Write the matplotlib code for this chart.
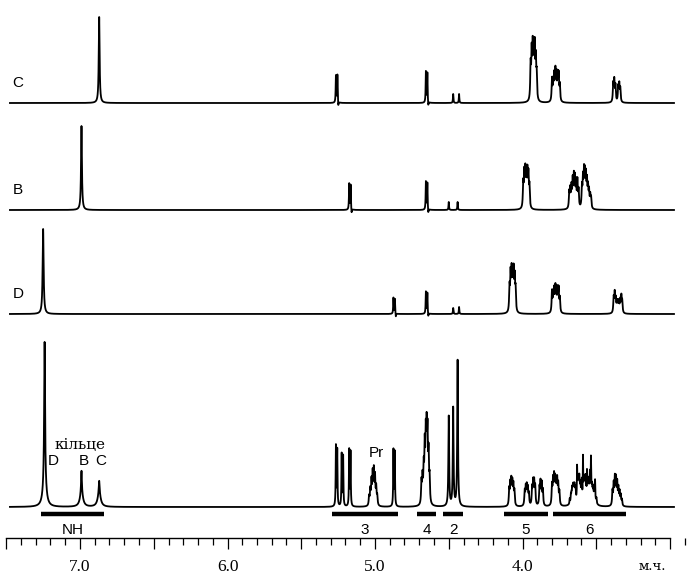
import matplotlib

matplotlib.use("Agg")
import matplotlib.pyplot as plt
import numpy as np
from matplotlib.ticker import FuncFormatter, MultipleLocator

# Peak lists per trace: (ppm, height, half-width at half-height in ppm).
# Heights are in plot units (pixels above the trace baseline).
PEAKS_C = [
    (6.870, 86, 0.0035),
    (5.265, 27, 0.002), (5.255, 28, 0.002), (5.249, -5, 0.002),
    (4.655, 31, 0.002), (4.645, 30, 0.002), (4.639, -5, 0.002),
    (4.470, 9, 0.002), (4.430, 9, 0.002),
    (3.945, 34, 0.003), (3.938, 44, 0.003), (3.931, 49, 0.003), (3.924, 43, 0.003),
    (3.917, 49, 0.003), (3.910, 37, 0.003), (3.904, 24, 0.003),
    (3.800, 22, 0.003), (3.792, 18, 0.003), (3.785, 24, 0.003), (3.777, 28, 0.003),
    (3.770, 24, 0.003), (3.762, 24, 0.003), (3.755, 25, 0.003), (3.747, 16, 0.003),
    (3.385, 18, 0.003), (3.378, 21, 0.003), (3.370, 16, 0.003),
    (3.351, 15, 0.003), (3.344, 17, 0.003), (3.337, 13, 0.003),
]

PEAKS_B = [
    (6.990, 84, 0.0035),
    (5.175, 26, 0.002), (5.165, 25, 0.002), (5.159, -5, 0.002),
    (4.655, 28, 0.002), (4.645, 27, 0.002), (4.639, -5, 0.002),
    (4.500, 8, 0.002), (4.440, 8, 0.002),
    (3.995, 24, 0.003), (3.988, 32, 0.003), (3.981, 34, 0.003), (3.974, 28, 0.003),
    (3.967, 33, 0.003), (3.960, 31, 0.003), (3.953, 21, 0.003),
    (3.683, 16, 0.003), (3.676, 18, 0.003), (3.668, 20, 0.003), (3.660, 26, 0.003),
    (3.652, 29, 0.003), (3.645, 27, 0.003), (3.637, 24, 0.003), (3.628, 26, 0.003),
    (3.620, 17, 0.003),
    (3.597, 20, 0.003), (3.590, 27, 0.003), (3.583, 32, 0.003), (3.577, 30, 0.003),
    (3.570, 29, 0.003), (3.563, 24, 0.003), (3.556, 19, 0.003), (3.549, 16, 0.003),
    (3.541, 12, 0.003), (3.535, 10, 0.003),
]

PEAKS_D = [
    (7.250, 85, 0.004),
    (4.875, 16, 0.002), (4.865, 15, 0.002), (4.859, -4, 0.002),
    (4.655, 22, 0.002), (4.645, 21, 0.002), (4.639, -4, 0.002),
    (4.470, 6, 0.002), (4.430, 7, 0.002),
    (4.088, 24, 0.003), (4.081, 35, 0.003), (4.074, 37, 0.003), (4.067, 33, 0.003),
    (4.060, 37, 0.003), (4.053, 31, 0.003), (4.047, 21, 0.003),
    (3.800, 21, 0.003), (3.792, 17, 0.003), (3.785, 21, 0.003), (3.777, 23, 0.003),
    (3.770, 20, 0.003), (3.762, 21, 0.003), (3.755, 22, 0.003), (3.747, 14, 0.003),
    (3.382, 15, 0.003), (3.375, 19, 0.003), (3.368, 13, 0.003), (3.360, 10, 0.003),
    (3.353, 10, 0.003), (3.346, 10, 0.003), (3.338, 12, 0.003), (3.330, 16, 0.003),
    (3.324, 11, 0.003),
]

PEAKS_ALL = [
    # NH region: sharp lines on broad exchange humps
    (7.240, 140, 0.0035), (7.240, 25, 0.012),
    (6.990, 22, 0.003), (6.990, 14, 0.012),
    (6.870, 12, 0.003), (6.870, 14, 0.012),
    # region 3
    (5.265, 60, 0.002), (5.256, 56, 0.002),
    (5.226, 52, 0.002), (5.216, 50, 0.002),
    (5.175, 56, 0.002), (5.166, 54, 0.002),
    (5.040, 9, 0.003), (5.032, 15, 0.003), (5.024, 23, 0.003), (5.016, 30, 0.003),
    (5.008, 33, 0.003), (5.000, 27, 0.003), (4.992, 17, 0.003), (4.985, 9, 0.003),
    (4.875, 56, 0.002), (4.866, 54, 0.002),
    # region 4
    (4.685, 22, 0.003), (4.678, 25, 0.003), (4.670, 33, 0.003), (4.663, 52, 0.003),
    (4.656, 60, 0.003), (4.650, 64, 0.003), (4.644, 62, 0.003), (4.637, 45, 0.003),
    (4.630, 24, 0.003),
    # region 2
    (4.500, 90, 0.003), (4.470, 98, 0.003), (4.440, 146, 0.003),
    # region 5
    (4.090, 16, 0.003), (4.083, 20, 0.003), (4.076, 23, 0.003), (4.069, 21, 0.003),
    (4.062, 19, 0.003), (4.055, 14, 0.003),
    (3.985, 14, 0.003), (3.978, 17, 0.003), (3.971, 18, 0.003), (3.964, 16, 0.003),
    (3.957, 11, 0.003),
    (3.935, 17, 0.003), (3.928, 22, 0.003), (3.921, 22, 0.003), (3.914, 18, 0.003),
    (3.885, 17, 0.003), (3.878, 22, 0.003), (3.870, 21, 0.003), (3.862, 15, 0.003),
    # region 6
    (3.800, 19, 0.003), (3.793, 23, 0.003), (3.786, 26, 0.003), (3.779, 23, 0.003),
    (3.772, 21, 0.003), (3.765, 23, 0.003), (3.758, 19, 0.003), (3.750, 13, 0.003),
    (3.660, 7, 0.012), (3.620, 9, 0.012), (3.580, 9, 0.012), (3.540, 9, 0.012),
    (3.510, 6, 0.010),
    (3.680, 5, 0.002), (3.672, 7, 0.002), (3.668, 6, 0.002), (3.664, 9, 0.002),
    (3.660, 8, 0.002), (3.656, 11, 0.002), (3.652, 9, 0.002), (3.648, 13, 0.002),
    (3.644, 10, 0.002), (3.640, 12, 0.002), (3.630, 30, 0.0015), (3.626, 10, 0.002),
    (3.623, 14, 0.002), (3.619, 9, 0.002), (3.615, 17, 0.002), (3.611, 9, 0.002),
    (3.607, 14, 0.002), (3.602, 10, 0.002), (3.598, 18, 0.002), (3.590, 40, 0.0015),
    (3.585, 10, 0.002), (3.581, 14, 0.002), (3.577, 9, 0.002), (3.573, 18, 0.002),
    (3.568, 10, 0.002), (3.563, 24, 0.0015), (3.560, 9, 0.002), (3.557, 16, 0.002),
    (3.553, 9, 0.002), (3.549, 15, 0.002), (3.543, 22, 0.002), (3.536, 36, 0.0015),
    (3.532, 9, 0.002), (3.528, 12, 0.002), (3.524, 8, 0.002), (3.520, 10, 0.002),
    (3.514, 12, 0.002), (3.508, 18, 0.0015), (3.499, 5, 0.002),
    (3.390, 14, 0.003), (3.382, 20, 0.003), (3.374, 26, 0.003), (3.366, 25, 0.003),
    (3.358, 21, 0.003), (3.350, 16, 0.003), (3.342, 13, 0.003), (3.334, 10, 0.003),
    (3.326, 6, 0.003),
]

# trace name -> (peaks, baseline y in plot units)
TRACES = [
    ("C", PEAKS_C, 103),
    ("B", PEAKS_B, 210),
    ("D", PEAKS_D, 314),
    ("", PEAKS_ALL, 507),
]

# integration regions under the full spectrum
REGION_LABELS = ["NH", "3", "4", "2", "5", "6"]
REGION_START = [7.264, 5.292, 4.715, 4.539, 4.125, 3.793]
REGION_END = [6.837, 4.844, 4.586, 4.403, 3.827, 3.298]

PPM_LEFT, PPM_RIGHT = 7.475, 2.973  # spectral window drawn
SCALE_LEFT, SCALE_RIGHT = 7.5, 3.0
PX_PER_PPM = 147.5


def px_to_ppm(x):
    return 7.0 - (x - 80) / PX_PER_PPM


def spectrum(ppm, peaks):
    y = np.zeros_like(ppm)
    for center, height, hw in peaks:
        y += height / (1 + ((ppm - center) / hw) ** 2)
    return y


fig = plt.figure(figsize=(6.88, 5.78), dpi=100)
ax = fig.add_axes([0, 0, 1, 1])
ax.set_xlim(px_to_ppm(0), px_to_ppm(688))
ax.set_ylim(578, 0)

ppm = np.linspace(PPM_LEFT, PPM_RIGHT, 40000)
for name, peaks, base in TRACES:
    ax.plot(ppm, base - spectrum(ppm, peaks), color="black", lw=1.3)
    if name:
        ax.text(px_to_ppm(18), base - 20, name, ha="center", va="center",
                fontsize=11, family="Liberation Sans")

# integration bars and labels
for lab, a, b in zip(REGION_LABELS, REGION_START, REGION_END):
    ax.hlines(514, a, b, color="black", lw=3.2)
    ax.text((a + b) / 2, 530, lab, ha="center", va="center",
            fontsize=11, family="Liberation Sans")

# annotations on the full spectrum
ax.text(px_to_ppm(80), 445, "кільце", ha="center", va="center",
        fontsize=11, family="DejaVu Serif")
for lab, x in (("D", 53), ("B", 84), ("C", 101)):
    ax.text(px_to_ppm(x), 461, lab, ha="center", va="center",
            fontsize=11, family="Liberation Sans")
ax.text(px_to_ppm(376), 453, "Pr", ha="center", va="center",
        fontsize=11, family="Liberation Sans")

# ppm scale
for side in ("top", "left", "right"):
    ax.spines[side].set_visible(False)
ax.spines["bottom"].set_position(("data", 538))
ax.spines["bottom"].set_bounds(SCALE_LEFT, SCALE_RIGHT)
ax.spines["bottom"].set_linewidth(1.0)
ax.set_yticks([])
ax.xaxis.set_major_locator(MultipleLocator(0.5))
ax.xaxis.set_minor_locator(MultipleLocator(0.1))
ax.xaxis.set_major_formatter(FuncFormatter(
    lambda v, _: f"{v:.1f}" if abs(v - round(v)) < 1e-6 and 3.5 < v < 7.5 else ""))
ax.tick_params(axis="x", which="major", direction="out", length=8, width=0.9,
               pad=7, labelsize=12.5)
ax.tick_params(axis="x", which="minor", direction="out", length=5, width=0.9)
for t in ax.get_xticklabels():
    t.set_family("Liberation Serif")
ax.text(px_to_ppm(652), 566, "м.ч.", ha="center", va="center",
        fontsize=9.5, family="DejaVu Serif")

fig.savefig("out.png", dpi=100)
